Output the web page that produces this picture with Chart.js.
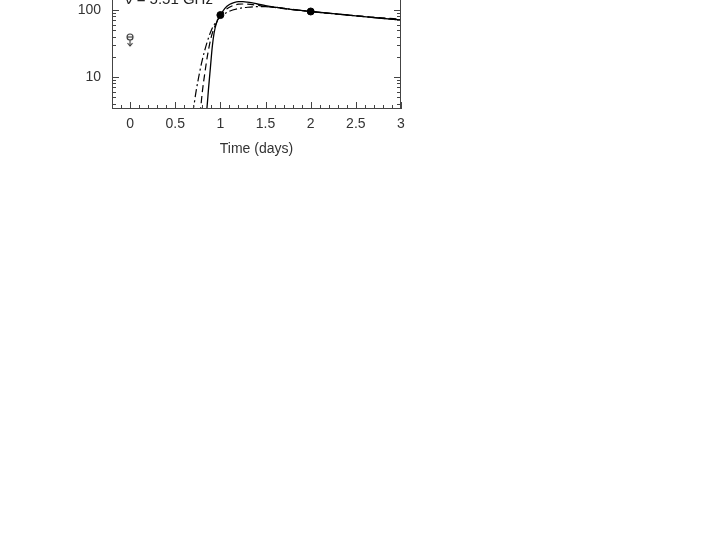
<!DOCTYPE html>
<html>
<head>
<meta charset="utf-8">
<script src="https://cdn.jsdelivr.net/npm/chart.js@4/dist/chart.umd.min.js"></script>
<style>
  html, body { margin: 0; padding: 0; background: #fff; overflow: hidden; width: 708px; height: 540px; }
  #wrap { position: absolute; left: 0; top: -100px; width: 708px; height: 640px; }
</style>
</head>
<body>
<div id="wrap"><canvas id="c" width="708" height="640"></canvas></div>
<script>
// ---- data ----
const xTickValues = [0, 0.5, 1, 1.5, 2, 2.5, 3];
const yTickValues = [10, 100];
const obsTime = [1, 2];
const obsFlux = [84, 95];
const limitTime = [0];
const limitFlux = [39.5];
const solidTime = [0.84, 0.85, 0.87, 0.89, 0.91, 0.93, 0.96, 1.0, 1.05, 1.1, 1.15, 1.2, 1.25, 1.3, 1.4, 1.5, 1.6, 1.8, 2.0, 2.25, 2.5, 2.75, 3.0];
const solidFlux = [2.6, 3.3, 7, 14, 28, 45, 66, 84, 106, 121, 129, 133, 133, 131, 124, 116, 110, 101, 95, 88, 82, 76, 71];
const dashTime = [0.77, 0.78, 0.80, 0.83, 0.86, 0.90, 0.95, 1.0, 1.05, 1.1, 1.15, 1.2, 1.25, 1.3, 1.4, 1.5, 1.6, 1.8, 2.0, 2.25, 2.5, 2.75, 3.0];
const dashFlux = [2.8, 3.3, 6, 12, 22, 40, 62, 80, 98, 110, 118, 122, 123, 122, 118, 113, 109, 101, 95, 88, 82, 77, 73];
const dotdashTime = [0.69, 0.70, 0.73, 0.76, 0.80, 0.85, 0.90, 0.95, 1.0, 1.1, 1.2, 1.3, 1.4, 1.5, 1.6, 1.7, 1.8, 2.0, 2.25, 2.5, 2.75, 3.0];
const dotdashFlux = [2.9, 3.3, 6, 10, 18, 32, 50, 66, 79, 96, 105, 110, 112, 112, 110, 106, 102, 95, 88, 82, 76, 71];
const bandLabel = 'ν = 5.51 GHz';
const xTitle = 'Time (days)';

const pts = (xs, ys) => xs.map((x, i) => ({ x: x, y: ys[i] }));

// upper-limit symbol
const lim = document.createElement('canvas');
lim.width = 14; lim.height = 24;
(function () {
  const g = lim.getContext('2d');
  g.strokeStyle = '#333'; g.lineWidth = 1.1;
  g.beginPath(); g.arc(7, 12, 3, 0, Math.PI * 2); g.stroke();
  g.beginPath(); g.moveTo(4, 12); g.lineTo(10, 12); g.stroke();
  g.beginPath(); g.moveTo(7, 15); g.lineTo(7, 21); g.stroke();
  g.beginPath(); g.moveTo(4.5, 18); g.lineTo(7, 21); g.lineTo(9.5, 18); g.stroke();
})();

const font = { family: 'Liberation Sans, Arial, sans-serif', size: 14 };

const ticksPlugin = {
  id: 'inTicks',
  afterDraw(chart) {
    const { ctx, chartArea: a, scales } = chart;
    const xs = scales.x, ys = scales.y;
    ctx.save();
    ctx.strokeStyle = '#444';
    ctx.lineWidth = 1;
    ctx.strokeRect(a.left + 0.5, a.top + 0.5, a.right - a.left - 1, a.bottom - a.top - 1);
    ctx.beginPath();
    for (let k = -2; k <= 30; k++) {
      const v = k / 10;
      const px = Math.round(xs.getPixelForValue(v)) + 0.5;
      const len = (k % 5 === 0) ? 7 : 4;
      ctx.moveTo(px, a.bottom); ctx.lineTo(px, a.bottom - len);
      ctx.moveTo(px, a.top); ctx.lineTo(px, a.top + len);
    }
    for (let e = 0; e <= 3; e++) {
      for (let m = 1; m <= 9; m++) {
        const v = m * Math.pow(10, e);
        if (v < ys.min || v > ys.max) continue;
        const py = Math.round(ys.getPixelForValue(v)) + 0.5;
        const len = (m === 1) ? 7 : 4;
        ctx.moveTo(a.left, py); ctx.lineTo(a.left + len, py);
        ctx.moveTo(a.right, py); ctx.lineTo(a.right - len, py);
      }
    }
    ctx.stroke();
    ctx.fillStyle = '#222';
    ctx.font = '15px Liberation Sans, Arial, sans-serif';
    ctx.textBaseline = 'alphabetic';
    ctx.fillText(bandLabel, a.left + 13, ys.getPixelForValue(100) - 6);
    ctx.restore();
  }
};

new Chart(document.getElementById('c'), {
  type: 'scatter',
  data: {
    datasets: [
      { data: pts(solidTime, solidFlux), showLine: true, borderColor: '#000', borderWidth: 1.3, pointRadius: 0, cubicInterpolationMode: 'monotone' },
      { data: pts(dashTime, dashFlux), showLine: true, borderColor: '#000', borderWidth: 1.2, borderDash: [7, 4], pointRadius: 0, cubicInterpolationMode: 'monotone' },
      { data: pts(dotdashTime, dotdashFlux), showLine: true, borderColor: '#000', borderWidth: 1.2, borderDash: [8, 3, 2, 3], pointRadius: 0, cubicInterpolationMode: 'monotone' },
      { data: pts(obsTime, obsFlux), showLine: false, pointRadius: 3.5, pointBackgroundColor: '#000', pointBorderColor: '#000' },
      { data: pts(limitTime, limitFlux), showLine: false, pointStyle: lim, pointRadius: 6 }
    ]
  },
  options: {
    responsive: false,
    animation: false,
    devicePixelRatio: 1,
    layout: { padding: { left: 0, right: 307, top: 43, bottom: 371 } },
    plugins: { legend: { display: false }, tooltip: { enabled: false } },
    scales: {
      x: {
        type: 'linear', min: -0.2, max: 3,
        grid: { display: false, drawTicks: false }, border: { display: false },
        afterBuildTicks(s) { s.ticks = xTickValues.map(v => ({ value: v })); },
        afterFit(s) { s.height = 60; },
        ticks: { color: '#333', font: font, padding: 7, maxRotation: 0, autoSkip: false, callback: v => String(v) },
        title: { display: true, text: xTitle, color: '#333', font: font, padding: { top: 0, bottom: 11 } }
      },
      y: {
        type: 'logarithmic', min: 3.33, max: 1000,
        grid: { display: false, drawTicks: false }, border: { display: false },
        afterBuildTicks(s) { s.ticks = yTickValues.map(v => ({ value: v })); },
        afterFit(s) { s.width = 112; },
        ticks: { color: '#333', font: font, padding: 11, autoSkip: false, callback: v => String(v) }
      }
    }
  },
  plugins: [ticksPlugin]
});
</script>
</body>
</html>
